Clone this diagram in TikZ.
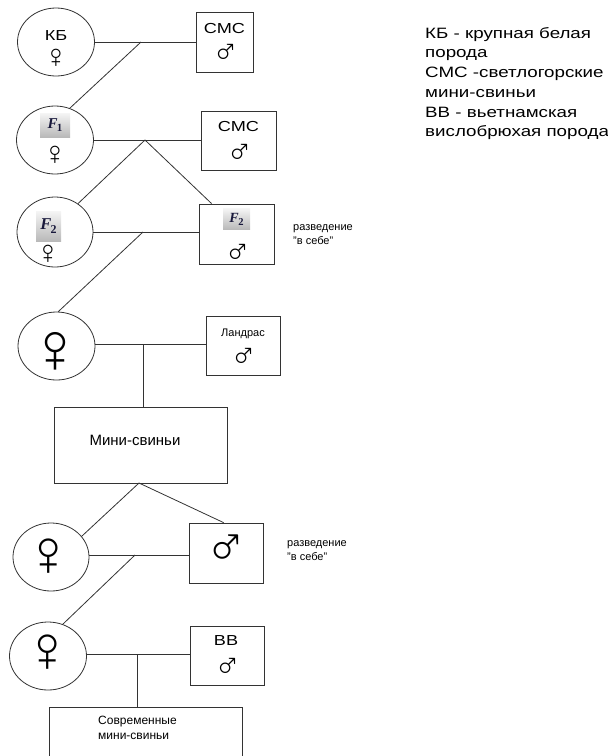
\documentclass[tikz,border=0pt]{standalone}
\usepackage{fontspec}
\setmainfont{Liberation Sans}
\newfontfamily\widefont[FakeStretch=1.25]{Liberation Sans}
\newfontfamily\serifbi{Liberation Serif}
\newfontfamily\symfont{Liberation Mono}
\usetikzlibrary{shapes.geometric}
\definecolor{fnav}{RGB}{25,25,60}
\newcommand\Flab[3]{{\color{fnav}\serifbi\bfseries\itshape\fontsize{#1}{#1}\selectfont F\kern-0.04em\raisebox{-0.22em}{\upshape\fontsize{#2}{#2}\selectfont #3}}}
\newcommand\femsym[1]{{\symfont\fontsize{#1}{#1}\selectfont ♀}}
\newcommand\malsym[1]{{\symfont\fontsize{#1}{#1}\selectfont ♂}}
\tikzset{
  ln/.style={line width=0.8pt, draw=black!80},
  oval/.style={ellipse, ln, minimum width=77pt, minimum height=68pt, inner sep=0pt},
  pbox/.style={rectangle, ln, inner sep=0pt},
  txt/.style={inner sep=0pt, text=black},
  sym/.style={inner sep=0pt, text=black},
  wtxt/.style={inner sep=0pt, font=\widefont\fontsize{14.5}{17}\selectfont},
  flab/.style={inner sep=0pt, top color=gray!8, bottom color=gray!55},
}
\begin{document}
\begin{tikzpicture}[x=1pt,y=-1pt]
\useasboundingbox (0,0) rectangle (608,756);
\clip (0,0) rectangle (608,756);

% generation 1
\node[oval] (e1) at (56,42) {};
\node[wtxt] (e1t) at (56,36) {КБ};
\node[sym] (e1s) at (56,58) {\femsym{32}};
\node[pbox, minimum width=57pt, minimum height=60pt] (m1) at (224.5,42) {};
\node[wtxt] (m1t) at (224.5,29) {СМС};
\node[sym] (m1s) at (226,53) {\malsym{36}};
\coordinate (J1) at (141,42);
\draw[ln] (e1.east) -- (e1.east -| m1.west);

% generation 2
\node[oval] (f1) at (55,140) {};
\node[flab, minimum width=30pt, minimum height=24pt] (f1l) at (55,125) {\Flab{15}{11}{1}};
\node[sym] (f1s) at (55,155) {\femsym{32}};
\node[pbox, minimum width=75pt, minimum height=59pt] (m2) at (238.5,140.5) {};
\node[wtxt] (m2t) at (238.5,127) {СМС};
\node[sym] (m2s) at (240,153) {\malsym{36}};
\coordinate (J2) at (145,140);
\draw[ln] (f1.east) -- (f1.east -| m2.west);
\draw[ln] (J1) -- (f1.65);

% generation 3
\node[oval, minimum width=76pt, minimum height=70pt] (f2) at (55,232) {};
\node[flab, minimum width=25pt, minimum height=30pt] (f2l) at (48.5,226) {\Flab{16.5}{12}{2}};
\node[sym] (f2s) at (48,254) {\femsym{32}};
\node[pbox, minimum width=75pt, minimum height=60pt] (m3) at (236.5,234) {};
\node[flab, minimum width=27pt, minimum height=21pt] (m3l) at (236.5,219) {\Flab{14}{10.5}{2}};
\node[sym] (m3s) at (238,253) {\malsym{36}};
\coordinate (J3) at (143,232);
\draw[ln] (f2.east) -- (f2.east -| m3.west);
\draw[ln] (J2) -- (f2.51);
\draw[ln] (J2) -- ([xshift=13pt]m3.north west);
\node[txt, anchor=west, align=left, font=\fontsize{11}{14}\selectfont] (r1) at (293,235) {разведение\\"в себе"};

% generation 4
\node[oval] (f4) at (56.5,346) {};
\node[sym] (f4s) at (56,352) {\femsym{70}};
\node[pbox, minimum width=74pt, minimum height=59pt] (m4) at (243,345.5) {};
\node[txt, font=\fontsize{11}{13}\selectfont] (m4t) at (243,334) {Ландрас};
\node[sym] (m4s) at (244,357) {\malsym{36}};
\coordinate (J4) at (143,344);
\draw[ln] (f4.east |- J4) -- (J4 -| m4.west);
\draw[ln] (J3) -- (f4.87);

% mini-pigs
\node[pbox, minimum width=173pt, minimum height=76pt] (mini) at (140.5,445) {};
\node[txt, font=\fontsize{15}{18}\selectfont] (minit) at (135,440) {Мини-свиньи};
\draw[ln] (J4) -- (J4 |- mini.north);
\coordinate (B) at (139,483);

% generation 5
\node[oval, minimum width=76pt] (f5) at (51,557) {};
\node[sym] (f5s) at (49,557) {\femsym{64}};
\node[pbox, minimum width=74pt, minimum height=60pt] (m5) at (226,553) {};
\node[sym] (m5s) at (227,549) {\malsym{58}};
\coordinate (J5) at (135,555);
\draw[ln] (f5.east |- J5) -- (J5 -| m5.west);
\draw[ln] (B) -- (f5.34);
\draw[ln] (B) -- ([xshift=35pt]m5.north west);
\node[txt, anchor=west, align=left, font=\fontsize{11}{14}\selectfont] (r2) at (287,551) {разведение\\"в себе"};

% generation 6
\node[oval] (f6) at (48,656) {};
\node[sym] (f6s) at (48,653) {\femsym{64}};
\node[pbox, minimum width=74pt, minimum height=59pt] (m6) at (227,655.5) {};
\node[wtxt] (m6t) at (226,641) {ВВ};
\node[sym] (m6s) at (228,667) {\malsym{36}};
\coordinate (J6) at (137,654);
\draw[ln] (f6.east |- J6) -- (J6 -| m6.west);
\draw[ln] (J5) -- (f6.65);

% modern mini-pigs
\node[pbox, minimum width=193pt, minimum height=73pt] (sov) at (145.5,743.5) {};
\node[txt, anchor=north west, align=left, font=\fontsize{12}{15}\selectfont] (sovt) at (98,716) {Современные\\мини-свиньи};
\draw[ln] (J6) -- (J6 |- sov.north);

% legend
\node[txt, anchor=north west, align=left, font=\widefont\fontsize{15}{19.7}\selectfont] (leg) at (425,27) {КБ - крупная белая\\порода\\СМС -светлогорские\\мини-свиньи\\ВВ - вьетнамская\\вислобрюхая порода};
\end{tikzpicture}
\end{document}
